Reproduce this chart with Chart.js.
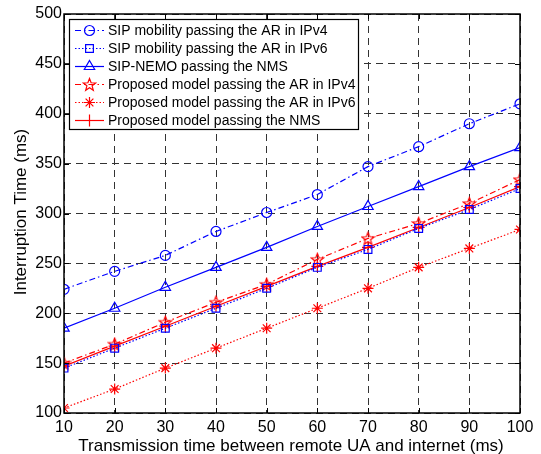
<!DOCTYPE html>
<html>
<head>
<meta charset="utf-8">
<script src="https://cdn.jsdelivr.net/npm/chart.js@4.4.1/dist/chart.umd.min.js"></script>
<style>
  body { margin: 0; background: #fff; }
  #wrap { width: 541px; height: 454px; }
</style>
</head>
<body>
<div id="wrap"><canvas id="myChart" width="541" height="454"></canvas></div>
<script>
// values
var xValues = [10, 20, 30, 40, 50, 60, 70, 80, 90, 100];
var sipIPv4 = [224, 242, 258, 282, 301, 319, 347, 367, 390, 410];
var sipIPv6 = [145, 165, 185, 205, 225, 246, 264, 285, 304, 325];
var sipNemo = [185, 205, 226, 246, 266, 287, 307, 327, 347, 366];
var propIPv4 = [150, 169, 191, 211, 229, 254, 275, 290, 310, 334];
var propIPv6 = [105, 124, 145, 165, 185, 205, 225, 246, 265, 284];
var propNMS = [147, 167, 187, 207, 227, 247, 266, 286, 306, 327];
var labels = [
  'SIP mobility passing the AR in IPv4',
  'SIP mobility passing the AR in IPv6',
  'SIP-NEMO passing the NMS',
  'Proposed model passing the AR in IPv4',
  'Proposed model passing the AR in IPv6',
  'Proposed model passing the NMS'
];
var yTicks = [100, 150, 200, 250, 300, 350, 400, 450, 500];

var FONT = '"Liberation Sans", Arial, Helvetica, sans-serif';
var BLUE = '#0000ff', RED = '#ff0000';
var dashDot = [6, 3, 1.5, 3];
var dotted = [1.5, 2];

// hollow five point star for the IPv4 proposed model
function makeStar(size, color) {
  var c = document.createElement('canvas');
  c.width = size; c.height = size;
  var g = c.getContext('2d');
  var cx = size / 2, cy = size / 2 + 0.5, R = size / 2 - 1, r = R * 0.42;
  g.beginPath();
  for (var i = 0; i < 10; i++) {
    var rad = (i % 2 == 0) ? R : r;
    var a = -Math.PI / 2 + i * Math.PI / 5;
    var px = cx + rad * Math.cos(a), py = cy + rad * Math.sin(a);
    if (i == 0) g.moveTo(px, py); else g.lineTo(px, py);
  }
  g.closePath();
  g.strokeStyle = color;
  g.lineWidth = 1.2;
  g.stroke();
  return c;
}
var starImg = makeStar(15, RED);

function pts(arr) {
  return arr.map(function (v, i) { return { x: xValues[i], y: v }; });
}

var series = [
  { data: sipIPv4, color: BLUE, dash: dashDot, style: 'circle', r: 5 },
  { data: sipIPv6, color: BLUE, dash: dotted, style: 'rect', r: 5.5 },
  { data: sipNemo, color: BLUE, dash: [], style: 'triangle', r: 6 },
  { data: propIPv4, color: RED, dash: dashDot, style: starImg, r: 7 },
  { data: propIPv6, color: RED, dash: dotted, style: 'star', r: 5.5 },
  { data: propNMS, color: RED, dash: [], style: 'cross', r: 6 }
];

var datasets = series.map(function (s, i) {
  return {
    label: labels[i],
    data: pts(s.data),
    borderColor: s.color,
    backgroundColor: 'rgba(0,0,0,0)',
    borderWidth: 1.2,
    borderDash: s.dash,
    pointStyle: s.style,
    pointRadius: s.r,
    pointBorderColor: s.color,
    pointBackgroundColor: 'rgba(0,0,0,0)',
    pointBorderWidth: 1.2,
    tension: 0
  };
});

function drawMarker(ctx, style, x, y, r, color) {
  ctx.save();
  ctx.strokeStyle = color;
  ctx.lineWidth = 1.2;
  ctx.setLineDash([]);
  ctx.beginPath();
  if (style === 'circle') {
    ctx.arc(x, y, r, 0, Math.PI * 2);
  } else if (style === 'rect') {
    var s = r * Math.SQRT1_2;
    ctx.rect(x - s, y - s, 2 * s, 2 * s);
  } else if (style === 'triangle') {
    ctx.moveTo(x, y - r);
    ctx.lineTo(x + r * 0.866, y + r * 0.5);
    ctx.lineTo(x - r * 0.866, y + r * 0.5);
    ctx.closePath();
  } else if (style === 'star') {
    for (var k = 0; k < 4; k++) {
      var a = k * Math.PI / 4;
      ctx.moveTo(x - r * Math.cos(a), y - r * Math.sin(a));
      ctx.lineTo(x + r * Math.cos(a), y + r * Math.sin(a));
    }
  } else if (style === 'cross') {
    ctx.moveTo(x - r, y); ctx.lineTo(x + r, y);
    ctx.moveTo(x, y - r); ctx.lineTo(x, y + r);
  } else {
    ctx.drawImage(style, x - style.width / 2, y - style.height / 2);
  }
  ctx.stroke();
  ctx.restore();
}

var matlabLook = {
  id: 'matlabLook',
  afterDraw: function (chart) {
    var ctx = chart.ctx;
    var a = chart.chartArea;
    var xs = chart.scales.x, ys = chart.scales.y;
    ctx.save();
    // frame
    ctx.strokeStyle = '#000';
    ctx.lineWidth = 1.5;
    ctx.setLineDash([]);
    ctx.strokeRect(a.left, a.top, a.right - a.left, a.bottom - a.top);
    // inward ticks on all four sides
    ctx.lineWidth = 1;
    ctx.beginPath();
    xValues.forEach(function (v) {
      var px = Math.round(xs.getPixelForValue(v)) + 0.5;
      ctx.moveTo(px, a.bottom); ctx.lineTo(px, a.bottom - 5);
      ctx.moveTo(px, a.top); ctx.lineTo(px, a.top + 5);
    });
    yTicks.forEach(function (v) {
      var py = Math.round(ys.getPixelForValue(v)) + 0.5;
      ctx.moveTo(a.left, py); ctx.lineTo(a.left + 5, py);
      ctx.moveTo(a.right, py); ctx.lineTo(a.right - 5, py);
    });
    ctx.stroke();

    // axis titles
    ctx.fillStyle = '#000';
    ctx.font = '17px ' + FONT;
    ctx.textAlign = 'center';
    ctx.textBaseline = 'middle';
    ctx.fillText('Transmission time between remote UA and internet (ms)', 291, 446);
    ctx.save();
    ctx.translate(21, 212);
    ctx.rotate(-Math.PI / 2);
    ctx.fillText('Interruption Time (ms)', 0, 0);
    ctx.restore();

    // legend box
    var bx = 69.5, by = 19.5, bw = 289, bh = 110;
    ctx.fillStyle = '#fff';
    ctx.fillRect(bx, by, bw, bh);
    ctx.strokeStyle = '#000';
    ctx.lineWidth = 1.2;
    ctx.strokeRect(bx, by, bw, bh);
    ctx.font = '14px ' + FONT;
    ctx.textAlign = 'left';
    for (var i = 0; i < series.length; i++) {
      var s = series[i];
      var ry = 30.5 + i * 18;
      ctx.strokeStyle = s.color;
      ctx.lineWidth = 1.2;
      ctx.setLineDash(s.dash);
      ctx.beginPath();
      ctx.moveTo(75, ry); ctx.lineTo(104, ry);
      ctx.stroke();
      ctx.setLineDash([]);
      drawMarker(ctx, s.style, 89.5, ry, s.r, s.color);
      ctx.fillStyle = '#000';
      ctx.fillText(labels[i], 108, ry + 1);
    }
    ctx.restore();
  }
};

new Chart('myChart', {
  type: 'line',
  data: { datasets: datasets },
  options: {
    responsive: false,
    animation: false,
    devicePixelRatio: 1,
    layout: { padding: { top: 14, right: 21, left: 0, bottom: 0 } },
    plugins: { legend: { display: false }, tooltip: { enabled: false } },
    scales: {
      x: {
        type: 'linear',
        min: 10, max: 100,
        afterFit: function (s) { s.height = 41; },
        afterBuildTicks: function (s) { s.ticks = xValues.map(function (v) { return { value: v }; }); },
        grid: { color: '#333', lineWidth: 1, drawTicks: false },
        border: { display: false, dash: [7, 5] },
        ticks: { color: '#000', font: { size: 16, family: FONT }, padding: 5, maxRotation: 0 }
      },
      y: {
        min: 100, max: 500,
        afterFit: function (s) { s.width = 64; },
        afterBuildTicks: function (s) { s.ticks = yTicks.map(function (v) { return { value: v }; }); },
        grid: { color: '#333', lineWidth: 1, drawTicks: false },
        border: { display: false, dash: [7, 5] },
        ticks: { color: '#000', font: { size: 16, family: FONT }, padding: 2 }
      }
    }
  },
  plugins: [matlabLook]
});
</script>
</body>
</html>
